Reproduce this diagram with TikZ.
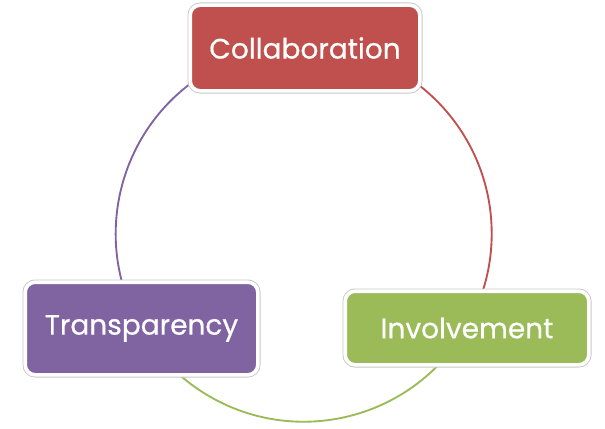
\documentclass[tikz,border=0pt]{standalone}
\usepackage{fontspec}
\setmainfont{Poppins}
\newfontfamily\boxfont{Poppins}[FakeBold=0.6]
\definecolor{cred}{HTML}{C0504D}
\definecolor{cgreen}{HTML}{9BBB59}
\definecolor{cpurple}{HTML}{8064A2}
\definecolor{cedge}{HTML}{C8C8C8}
\tikzset{
  box/.style={rounded corners=7.5pt, text=white, inner sep=0pt,
    font=\boxfont\fontsize{21}{24}\selectfont,
    preaction={draw=cedge, line width=4.05pt},
    draw=white, line width=2.7pt},
  ring/.style={line width=1.4pt}
}
\begin{document}
\begin{tikzpicture}[x=0.75pt,y=-0.75pt]
\useasboundingbox (0,0) rectangle (605,428);
\coordinate (ctr) at (303.7,233.7);
\draw[ring, cred] ([shift={(90:141pt)}]ctr) arc[start angle=90, end angle=-30, radius=141pt];
\draw[ring, cgreen] ([shift={(-30:141pt)}]ctr) arc[start angle=-30, end angle=-150, radius=141pt];
\draw[ring, cpurple] ([shift={(210:141pt)}]ctr) arc[start angle=210, end angle=90, radius=141pt];
\node[box, fill=cred, minimum width=172.2pt, minimum height=64.2pt] (collab) at (305,48) {Collaboration};
\node[box, fill=cpurple, minimum width=174.45pt, minimum height=69.45pt] (transp) at (141.5,328.5) {Transparency};
\node[box, fill=cgreen, minimum width=182.7pt, minimum height=55.2pt] (involv) at (467,328) {Involvement};
\end{tikzpicture}
\end{document}
